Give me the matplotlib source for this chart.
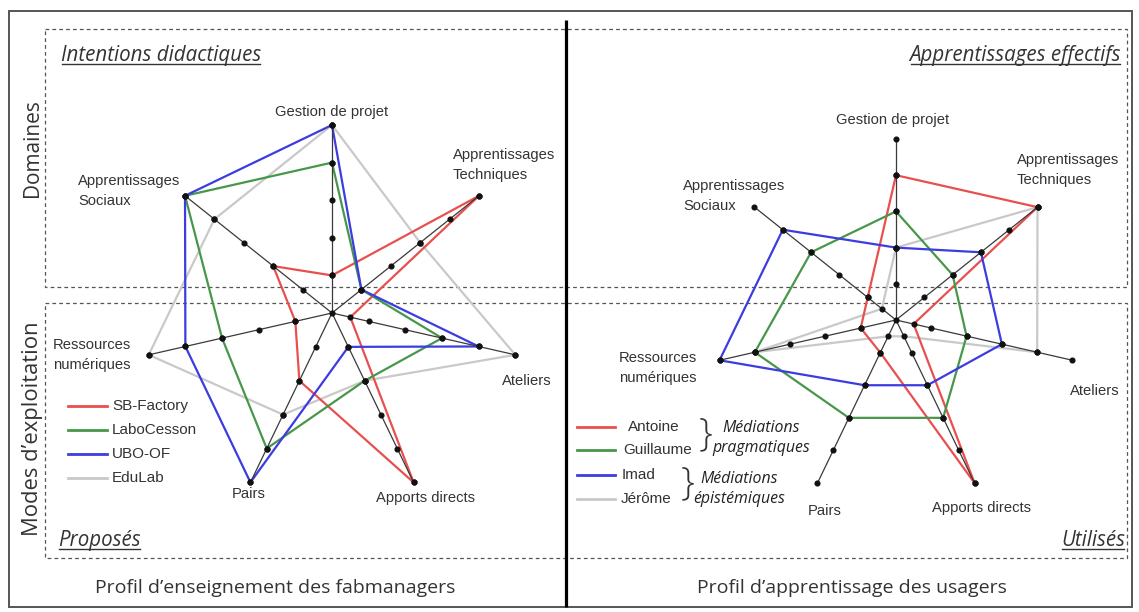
import numpy as np
import matplotlib
matplotlib.use("Agg")
import matplotlib.pyplot as plt
from matplotlib.patches import Rectangle

# ---------------- data ----------------
axis_labels = ["Gestion de projet", "Apprentissages\nTechniques", "Ateliers",
               "Apports directs", "Pairs", "Ressources\nnumériques",
               "Apprentissages\nSociaux"]
levels = [1, 2, 3, 4, 5]

left_names = ["SB-Factory", "LaboCesson", "UBO-OF", "EduLab"]
sb_factory = [1, 5, 0.5, 5, 2, 1, 2]
labocesson = [4, 1, 3, 2, 4, 3, 5]
ubo_of = [5, 1, 4, 1, 5, 4, 5]
edulab = [5, 3, 5, 2, 3, 5, 4]

right_names = ["Antoine", "Guillaume", "Imad", "Jérôme"]
antoine = [4, 5, 0.5, 5, 1, 1, 1]
guillaume = [3, 2, 2, 3, 3, 4, 3]
imad = [2, 3, 3, 2, 2, 5, 4]
jerome = [2, 5, 4, 0.5, 0.5, 4, 0.5]

groups = ["Médiations\npragmatiques", "Médiations\népistémiques"]

colors = ["#e8504f", "#47974a", "#3c3ce0", "#c9c9c9"]
zorders = [3, 4, 5, 2]

# ---------------- figure ----------------
W, H = 1139, 612
fig = plt.figure(figsize=(W / 100, H / 100), dpi=100)
bg = fig.add_axes([0, 0, 1, 1])
bg.set_xlim(0, W)
bg.set_ylim(H, 0)
bg.axis("off")

TXT = "#333333"
LAB_FONT = ["Liberation Sans", "DejaVu Sans"]
TITLE_FONT = ["Open Sans", "DejaVu Sans"]

# frame, dashed boxes, divider
bg.add_patch(Rectangle((9, 11), 1123, 596, fill=False, ec="#555555", lw=1.4))
for (y0, h) in [(29, 258), (303, 255)]:
    bg.add_patch(Rectangle((45, y0), 1082, h, fill=False, ec="#555555",
                           lw=0.9, ls=(0, (3, 2.5))))
bg.plot([566, 566], [20, 607], color="black", lw=2.3, solid_capstyle="butt")


def radar(cx, cy, R, series):
    ax = fig.add_axes([(cx - R) / W, (H - cy - R) / H, 2 * R / W, 2 * R / H],
                      projection="polar")
    ax.set_theta_zero_location("N")
    ax.set_theta_direction(-1)
    ax.set_ylim(0, 5)
    ax.set_axis_off()
    ax.patch.set_alpha(0)
    theta = np.linspace(0, 2 * np.pi, len(axis_labels), endpoint=False)
    tt = np.append(theta, theta[0])
    for vals, c, z in zip(series, colors, zorders):
        v = list(vals) + [vals[0]]
        ax.plot(tt, v, color=c, lw=1.6, zorder=z, clip_on=False)
    for t in theta:
        ax.plot([t, t], [0, 5], color="#3a3a3a", lw=0.9, zorder=6, clip_on=False)
        ax.plot([t] * len(levels), levels, "o", ms=3.4, color="#111111",
                zorder=7, clip_on=False)
    for vals in series:
        ax.plot(theta, vals, "o", ms=3.4, color="#111111", zorder=7, clip_on=False)
    ax.plot([0], [0], "o", ms=3.4, color="#111111", zorder=7, clip_on=False)
    return ax


radar(332, 313, 188, [sb_factory, labocesson, ubo_of, edulab])
radar(896, 320, 181, [antoine, guillaume, imad, jerome])

# axis labels (positions in pixels)
left_lab_pos = [(332, 112, "center"), (453, 165, "left"), (527, 381, "center"),
                (426, 498, "center"), (249, 494, "center"), (53, 355, "left"),
                (78, 191, "left")]
right_lab_pos = [(893, 120, "center"), (1017, 170, "left"), (1095, 391, "center"),
                 (982, 508, "center"), (825, 511, "center"), (619, 368, "left"),
                 (683, 196, "left")]
for pos in (left_lab_pos, right_lab_pos):
    for lab, (x, y, ha) in zip(axis_labels, pos):
        bg.text(x, y, lab, ha=ha, va="center", fontsize=10.6, color=TXT,
                family=LAB_FONT, linespacing=1.6)

# left legend
for i, (name, c) in enumerate(zip(left_names, colors)):
    y = 406 + 24 * i
    bg.plot([68, 107], [y, y], color=c, lw=2.0)
    bg.text(112, y, name, ha="left", va="center", fontsize=11, color=TXT,
            family=LAB_FONT)

# right legend
right_lab_x = [654, 658, 639, 646]
right_y = [427, 450, 475, 499]
for name, c, x, y in zip(right_names, colors, right_lab_x, right_y):
    bg.plot([577, 615], [y, y], color=c, lw=2.0)
    bg.text(x, y, name, ha="center", va="center", fontsize=11, color=TXT,
            family=LAB_FONT)
for (bx, by), (gx, gy), g in zip([(706, 435), (688, 484)],
                                 [(761, 438), (739, 489)], groups):
    bg.text(bx, by, "}", ha="center", va="center", fontsize=28, color=TXT,
            family=TITLE_FONT, fontweight="light")
    bg.text(gx, gy, g, ha="center", va="center", fontsize=11.4, color="#222222",
            family=TITLE_FONT, style="italic", linespacing=1.3)

# titles
bg.text(33, 148, "Domaines", rotation=90, ha="center", va="center",
        fontsize=15, color=TXT, family=TITLE_FONT)
bg.text(33, 429, "Modes d\u2019exploitation", rotation=90, ha="center",
        va="center", fontsize=15.8, color=TXT, family=TITLE_FONT)
bg.text(275, 588, "Profil d\u2019enseignement des fabmanagers", ha="center",
        va="center", fontsize=14, color=TXT, family=TITLE_FONT)
bg.text(852, 588, "Profil d\u2019apprentissage des usagers", ha="center",
        va="center", fontsize=14, color=TXT, family=TITLE_FONT)

underlined = [(61, 61, "Intentions didactiques", "left"),
              (1121, 61, "Apprentissages effectifs", "right"),
              (58, 546, "Proposés", "left"),
              (1125, 546, "Utilisés", "right")]
renderer = fig.canvas.get_renderer()
inv = bg.transData.inverted()
for x, y, s, ha in underlined:
    t = bg.text(x, y, s, ha=ha, va="baseline", fontsize=14.8, color=TXT,
                family=TITLE_FONT, style="italic")
    bb = t.get_window_extent(renderer)
    (x0, _), (x1, _) = inv.transform([[bb.x0, bb.y0], [bb.x1, bb.y0]])
    bg.plot([x0 + 1, x1 - 1], [y + 3, y + 3], color=TXT, lw=1.0)

fig.savefig("out.png", dpi=100)
